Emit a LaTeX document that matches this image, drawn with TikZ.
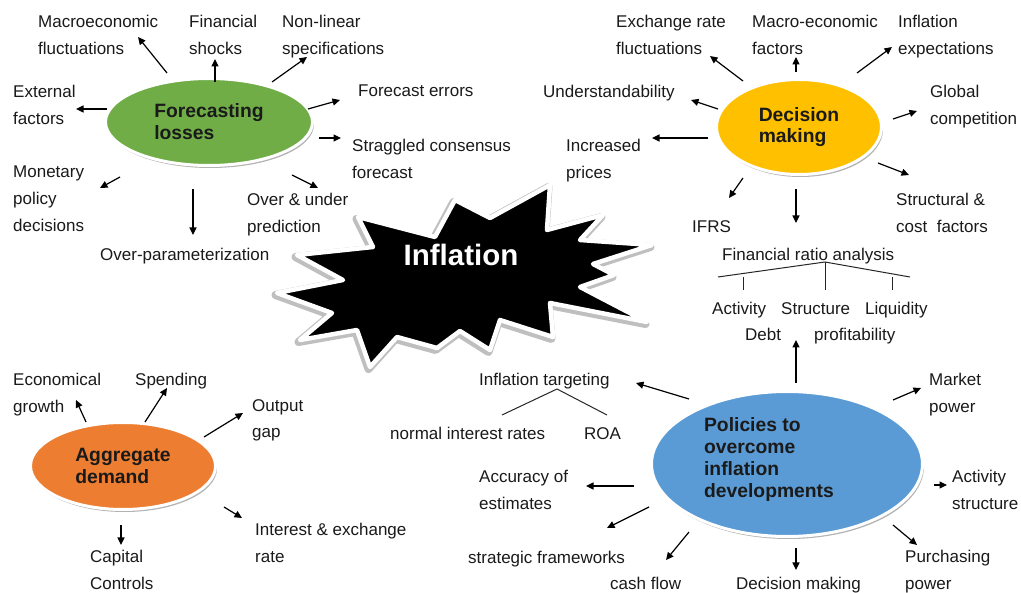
\documentclass[tikz,border=0pt]{standalone}
\usepackage{fontspec}
\setmainfont{Liberation Sans}
\usetikzlibrary{arrows.meta,calc,shapes.geometric,shadows}
\definecolor{cgreen}{HTML}{70AD47}
\definecolor{cgold}{HTML}{FFC000}
\definecolor{cblue}{HTML}{5B9BD5}
\definecolor{corange}{HTML}{ED7D31}
\definecolor{ctext}{HTML}{1A1A1A}
\begin{document}
\begin{tikzpicture}[x=1pt,y=-1pt,
  lbl/.style={anchor=north west, inner sep=0pt, align=left, font=\fontsize{17}{26.5}\selectfont, text=ctext},
  arr/.style={-{Triangle[length=7.5pt,width=7pt]}, line width=1.2pt, black},
  tree/.style={line width=1pt, black!85},
  ell/.style={ellipse, draw=white, line width=3pt, inner sep=0pt, align=left, text=ctext,
    font=\bfseries\fontsize{19.3}{21.8}\selectfont,
    drop shadow={shadow xshift=1.5pt, shadow yshift=-2.5pt, fill=black!30, opacity=1}}]
\useasboundingbox (0,0) rectangle (1021,593);
\fill[white] (0,0) rectangle (1021,593);

% ---------- starburst ----------
\draw[black!25, line width=8pt, line join=round, fill=black!25, shift={(-1.5,2)}]
  (358,217) -- (435,237) -- (455,200) -- (490,218) -- (550,185) -- (547,230) -- (603,215) -- (580,240)
  -- (652,245) -- (593,264) -- (614,275) -- (580,287) -- (647,322) -- (550,303) -- (553,337) -- (500,320)
  -- (490,350) -- (460,331) -- (437,348) -- (397,337) -- (370,367) -- (357,330) -- (300,340) -- (332,313)
  -- (277,293) -- (343,280) -- (297,255) -- (373,247) -- cycle;
\draw[white, line width=4.5pt, line join=round, fill=black]
  (358,217) -- (435,237) -- (455,200) -- (490,218) -- (550,185) -- (547,230) -- (603,215) -- (580,240)
  -- (652,245) -- (593,264) -- (614,275) -- (580,287) -- (647,322) -- (550,303) -- (553,337) -- (500,320)
  -- (490,350) -- (460,331) -- (437,348) -- (397,337) -- (370,367) -- (357,330) -- (300,340) -- (332,313)
  -- (277,293) -- (343,280) -- (297,255) -- (373,247) -- cycle;
\node[text=white, font=\bfseries\fontsize{29.5}{32}\selectfont, inner sep=0pt] (infl) at (461,255) {Inflation};

% ---------- ellipses ----------
\node[ell, fill=cgreen, minimum width=207, minimum height=87] (fl) at (209,122) {Forecasting\\losses};
\node[ell, fill=cgold, minimum width=165, minimum height=95] (dm) at (799,127) {Decision\\making};
\node[ell, fill=cblue, minimum width=271, minimum height=145] (pol) at (787,464)
  {Policies to\\overcome\\inflation\\developments\hspace*{36pt}\rule[-13pt]{0pt}{13pt}};
\node[ell, fill=corange, minimum width=185, minimum height=87] (ad) at (123,466) {Aggregate\\demand};

% ---------- Forecasting losses labels ----------
\node[lbl] (fl1) at (38,15) {Macroeconomic\\fluctuations};
\node[lbl] (fl2) at (189,15) {Financial\\shocks};
\node[lbl] (fl3) at (282,15) {Non-linear\\specifications};
\node[lbl] (fl4) at (13,85) {External\\factors};
\node[lbl] (fl5) at (358,85) {Forecast errors};
\node[lbl] (fl6) at (352,139) {Straggled consensus\\forecast};
\node[lbl, font=\fontsize{17}{27}\selectfont] (fl7) at (13,166) {Monetary\\policy\\decisions};
\node[lbl] (fl8) at (247,193) {Over \& under\\prediction};
\node[lbl] (fl9) at (100,248) {Over-parameterization};

\draw[arr] ($(fl)+(-42,-49)$) -- ($(fl)+(-71,-85)$);
\draw[arr] ($(fl)+(6,-40)$) -- ($(fl)+(6,-63)$);
\draw[arr] ($(fl)+(63,-40)$) -- ($(fl)+(98,-65)$);
\draw[arr] ($(fl)+(-102,-13)$) -- ($(fl)+(-133,-13)$);
\draw[arr] ($(fl)+(99,-13)$) -- ($(fl)+(131,-22)$);
\draw[arr] ($(fl)+(110,16)$) -- ($(fl)+(132,16)$);
\draw[arr] ($(fl)+(-89,55)$) -- ($(fl)+(-109,66)$);
\draw[arr] ($(fl)+(83,53)$) -- ($(fl)+(109,66)$);
\draw[arr] ($(fl)+(-16,67)$) -- ($(fl)+(-16,113)$);

% ---------- Decision making labels ----------
\node[lbl] (dm1) at (616,15) {Exchange rate\\fluctuations};
\node[lbl] (dm2) at (752,15) {Macro-economic\\factors};
\node[lbl] (dm3) at (898,15) {Inflation\\expectations};
\node[lbl] (dm4) at (543,85) {Understandability};
\node[lbl] (dm5) at (930,85) {Global\\competition};
\node[lbl] (dm6) at (566,139) {Increased\\prices};
\node[lbl] (dm7) at (896,193) {Structural \&\\cost~ factors};
\node[lbl] (dm8) at (692,220) {IFRS};

\draw[arr] ($(dm)+(-56,-46)$) -- ($(dm)+(-89,-71)$);
\draw[arr] ($(dm)+(-3,-55)$) -- ($(dm)+(-3,-70)$);
\draw[arr] ($(dm)+(58,-54)$) -- ($(dm)+(93,-80)$);
\draw[arr] ($(dm)+(-81,-18)$) -- ($(dm)+(-108,-27)$);
\draw[arr] ($(dm)+(94,-8)$) -- ($(dm)+(118,-16)$);
\draw[arr] ($(dm)+(-91,11)$) -- ($(dm)+(-147,11)$);
\draw[arr] ($(dm)+(79,36)$) -- ($(dm)+(110,48)$);
\draw[arr] ($(dm)+(-56,51)$) -- ($(dm)+(-70,71)$);
\draw[arr] ($(dm)+(-3,62)$) -- ($(dm)+(-3,96)$);

% ---------- Financial ratio analysis ----------
\node[lbl] (fra) at (722,248) {Financial ratio analysis};
\node[lbl] (fra1) at (712,302) {Activity};
\node[lbl] (fra2) at (781,302) {Structure};
\node[lbl] (fra3) at (865,302) {Liquidity};
\node[lbl] (fra4) at (745,328) {Debt};
\node[lbl] (fra5) at (814,328) {profitability};
\coordinate (fa) at (825,262);
\coordinate (fl-end) at (718,277);
\coordinate (fr-end) at (910,277);
\draw[tree] (fl-end) -- (fa) -- (fr-end);
\draw[tree] (fa) -- (825,290);
\draw[tree] (743,277) -- (743,290);
\draw[tree] (892,277) -- (892,290);

% ---------- Policies labels ----------
\node[lbl] (it) at (479,373) {Inflation targeting};
\node[lbl] (it1) at (390,427) {normal interest rates};
\node[lbl] (it2) at (584,427) {ROA};
\coordinate (ia) at (557,389);
\draw[tree] (502,415) -- (ia) -- (607,415);
\node[lbl] (p1) at (929,373) {Market\\power};
\node[lbl] (p2) at (479,470) {Accuracy of\\estimates};
\node[lbl] (p3) at (952,470) {Activity\\structure};
\node[lbl] (p4) at (468,551) {strategic frameworks};
\node[lbl] (p5) at (610,577) {cash flow};
\node[lbl] (p6) at (736,577) {Decision making};
\node[lbl] (p7) at (905,550) {Purchasing\\power};

\draw[arr] ($(pol)+(9,-81)$) -- ($(pol)+(9,-124)$);
\draw[arr] ($(pol)+(-98,-65)$) -- ($(pol)+(-151,-81)$);
\draw[arr] ($(pol)+(106,-64)$) -- ($(pol)+(134,-76)$);
\draw[arr] ($(pol)+(-153,22)$) -- ($(pol)+(-201,22)$);
\draw[arr] ($(pol)+(147,21)$) -- ($(pol)+(160,21)$);
\draw[arr] ($(pol)+(-138,43)$) -- ($(pol)+(-180,64)$);
\draw[arr] ($(pol)+(-98,68)$) -- ($(pol)+(-121,96)$);
\draw[arr] ($(pol)+(9,84)$) -- ($(pol)+(9,106)$);
\draw[arr] ($(pol)+(106,61)$) -- ($(pol)+(130,81)$);

% ---------- Aggregate demand labels ----------
\node[lbl] (a1) at (13,373) {Economical\\growth};
\node[lbl] (a2) at (135,373) {Spending};
\node[lbl] (a3) at (252,399) {Output\\gap};
\node[lbl] (a4) at (255,523) {Interest \& exchange\\rate};
\node[lbl] (a5) at (90,550) {Capital\\Controls};

\draw[arr] ($(ad)+(-37,-44)$) -- ($(ad)+(-47,-66)$);
\draw[arr] ($(ad)+(22,-44)$) -- ($(ad)+(44,-78)$);
\draw[arr] ($(ad)+(81,-29)$) -- ($(ad)+(120,-53)$);
\draw[arr] ($(ad)+(101,41)$) -- ($(ad)+(119,52)$);
\draw[arr] ($(ad)+(-2,59)$) -- ($(ad)+(-2,79)$);
\end{tikzpicture}
\end{document}
